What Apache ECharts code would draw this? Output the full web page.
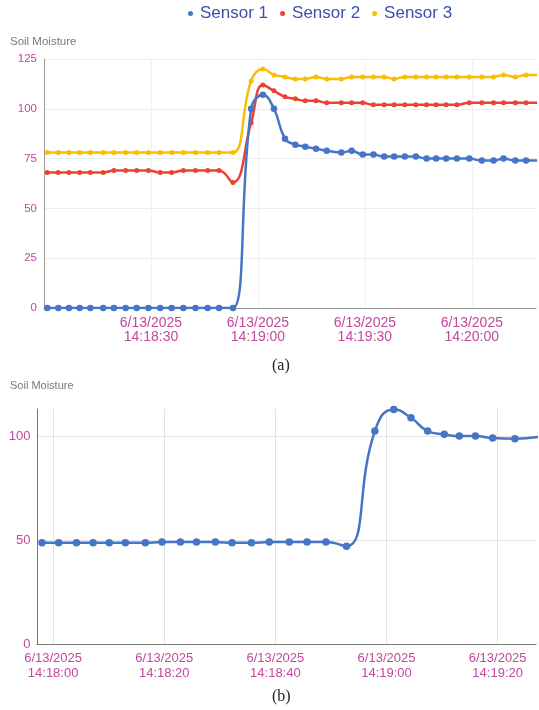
<!DOCTYPE html>
<html>
<head>
<meta charset="utf-8">
<script src="https://cdn.jsdelivr.net/npm/echarts@6/dist/echarts.min.js"></script>
<style>
html,body{margin:0;padding:0;background:#fff;}
#chart{width:539px;height:710px;}
</style>
</head>
<body>
<div id="chart"></div>
<script>
// ---- Chart (a): seconds after 6/13/2025 14:18:00 ----
const timesA = [0.9, 4.0, 7.0, 10.0, 13.0, 16.6, 19.6, 22.9, 26.0, 29.3, 32.6, 35.8, 39.1, 42.5, 45.9, 49.1, 53.0,
  58.1, 61.4, 64.5, 67.6, 70.5, 73.3, 76.3, 79.3, 83.4, 86.3, 89.4, 92.4, 95.4, 98.2, 101.2, 104.3, 107.3, 110.0,
  112.8, 115.8, 119.3, 122.8, 126.1, 128.9, 132.2, 135.2, 138.3];
const sensor1A = [0, 0, 0, 0, 0, 0, 0, 0, 0, 0, 0, 0, 0, 0, 0, 0, 0,
  100, 107, 100, 85, 82, 81, 80, 79, 78, 79, 77, 77, 76, 76, 76, 76, 75, 75, 75, 75, 75, 74, 74, 75, 74, 74, 74];
const sensor2A = [68, 68, 68, 68, 68, 68, 69, 69, 69, 69, 68, 68, 69, 69, 69, 69, 63,
  93, 112, 109, 106, 105, 104, 104, 103, 103, 103, 103, 102, 102, 102, 102, 102, 102, 102, 102, 102, 103, 103, 103, 103, 103, 103, 103];
const sensor3A = [78, 78, 78, 78, 78, 78, 78, 78, 78, 78, 78, 78, 78, 78, 78, 78, 78,
  114, 120, 117, 116, 115, 115, 116, 115, 115, 116, 116, 116, 116, 115, 116, 116, 116, 116, 116, 116, 116, 116, 116, 117, 116, 117, 117];
const seriesNamesA = ['Sensor 1', 'Sensor 2', 'Sensor 3'];
const xTickSecsA = [30, 60, 90, 120];
const xTickLabelsA = ['6/13/2025\n14:18:30', '6/13/2025\n14:19:00', '6/13/2025\n14:19:30', '6/13/2025\n14:20:00'];

// ---- Chart (b): seconds after 6/13/2025 14:18:00 ----
const timesB = [-2.0, 1.0, 4.2, 7.2, 10.1, 13.0, 16.6, 19.6, 22.9, 25.8, 29.2, 32.2, 35.7, 38.9, 42.5, 45.7, 49.1,
  52.8, 57.9, 61.3, 64.4, 67.4, 70.4, 73.1, 76.0, 79.1, 83.1, 87.5];
const valuesB = [48.7, 48.7, 48.7, 48.7, 48.7, 48.7, 48.7, 49, 49, 49, 49, 48.7, 48.7, 49, 49, 49, 49,
  47, 102.4, 112.8, 108.8, 102.4, 100.8, 100, 100, 99, 98.7, 99.6];
const xTickSecsB = [0, 20, 40, 60, 80];
const xTickLabelsB = ['6/13/2025\n14:18:00', '6/13/2025\n14:18:20', '6/13/2025\n14:18:40', '6/13/2025\n14:19:00', '6/13/2025\n14:19:20'];

const colors = ['#4674c6', '#ea4335', '#fbbc04'];
const labelColor = '#c2479f';
const font = 'Liberation Sans, Arial, sans-serif';

function pairs(xs, ys) { return xs.map((x, i) => [x, ys[i]]); }
function tickFormatter(secs, labels) {
  return function (v) {
    for (let i = 0; i < secs.length; i++) if (Math.abs(v - secs[i]) < 1e-6) return labels[i];
    return '';
  };
}

const chart = echarts.init(document.getElementById('chart'), null, { renderer: 'canvas' });
chart.setOption({
  animation: false,
  textStyle: { fontFamily: font },
  title: [
    { text: 'Soil Moisture', left: 10, top: 36, padding: 0, textStyle: { fontSize: 11.5, fontWeight: 'normal', color: '#7a7a7a', fontFamily: font } },
    { text: 'Soil Moisture', left: 10, top: 380, padding: 0, textStyle: { fontSize: 11, fontWeight: 'normal', color: '#7a7a7a', fontFamily: font } },
    { text: '(a)', left: 272, top: 358, padding: 0, textStyle: { fontSize: 16, fontWeight: 'normal', color: '#222', fontFamily: 'Liberation Serif, Times New Roman, serif' } },
    { text: '(b)', left: 272, top: 689, padding: 0, textStyle: { fontSize: 16, fontWeight: 'normal', color: '#222', fontFamily: 'Liberation Serif, Times New Roman, serif' } }
  ],
  legend: {
    data: seriesNamesA,
    left: 188, top: 5, padding: 0,
    icon: 'circle', itemWidth: 5, itemHeight: 5, itemGap: 12,
    textStyle: { fontSize: 17, color: '#3d4fae', fontFamily: font, padding: [0, 0, 0, 2] }
  },
  grid: [
    { left: 44, right: 0, top: 59, height: 249, containLabel: false },
    { left: 37, right: 0, top: 409, height: 235, containLabel: false }
  ],
  xAxis: [
    {
      type: 'value', gridIndex: 0, min: 0, max: 138, interval: 30,
      axisLine: { show: true, onZero: false, lineStyle: { color: '#9a9a9a', width: 1 } },
      axisTick: { show: false },
      axisLabel: { color: labelColor, fontSize: 14, lineHeight: 14.5, margin: 7.5, formatter: tickFormatter(xTickSecsA, xTickLabelsA) },
      splitLine: { show: true, showMaxLine: false, lineStyle: { color: '#f1f1f1' } }
    },
    {
      type: 'value', gridIndex: 1, min: -2.9, max: 86.9, splitNumber: 5,
      axisLine: { show: true, onZero: false, lineStyle: { color: '#777', width: 1 } },
      axisTick: { show: false },
      axisLabel: { color: labelColor, fontSize: 13, lineHeight: 15, margin: 6.5, formatter: tickFormatter(xTickSecsB, xTickLabelsB) },
      splitLine: { show: true, showMaxLine: false, lineStyle: { color: '#e3e3e3' } }
    }
  ],
  yAxis: [
    {
      type: 'value', gridIndex: 0, min: 0, max: 125, interval: 25,
      axisLine: { show: true, onZero: false, lineStyle: { color: '#9a9a9a', width: 1 } },
      axisTick: { show: false },
      axisLabel: { color: labelColor, fontSize: 11.5, margin: 7 },
      splitLine: { show: true, lineStyle: { color: '#ececec' } }
    },
    {
      type: 'value', gridIndex: 1, min: 0, max: 113, interval: 50,
      axisLine: { show: true, onZero: false, lineStyle: { color: '#777', width: 1 } },
      axisTick: { show: false },
      axisLabel: { color: labelColor, fontSize: 13, margin: 6.5, showMaxLabel: false },
      splitLine: { show: true, showMaxLine: false, lineStyle: { color: '#e3e3e3' } }
    }
  ],
  series: [
    { name: seriesNamesA[2], type: 'line', xAxisIndex: 0, yAxisIndex: 0, data: pairs(timesA, sensor3A), smooth: 0.45,
      symbol: 'circle', symbolSize: 5, lineStyle: { width: 2.5, color: colors[2] }, itemStyle: { color: colors[2] }, z: 2 },
    { name: seriesNamesA[1], type: 'line', xAxisIndex: 0, yAxisIndex: 0, data: pairs(timesA, sensor2A), smooth: 0.45,
      symbol: 'circle', symbolSize: 5, lineStyle: { width: 2.5, color: colors[1] }, itemStyle: { color: colors[1] }, z: 3 },
    { name: seriesNamesA[0], type: 'line', xAxisIndex: 0, yAxisIndex: 0, data: pairs(timesA, sensor1A), smooth: 0.45,
      symbol: 'circle', symbolSize: 6.5, lineStyle: { width: 2.5, color: colors[0] }, itemStyle: { color: colors[0] }, z: 4 },
    { name: 'Soil Moisture (b)', type: 'line', xAxisIndex: 1, yAxisIndex: 1, data: pairs(timesB, valuesB), smooth: 0.5,
      symbol: 'circle', symbolSize: 7.5, lineStyle: { width: 2.5, color: colors[0] }, itemStyle: { color: colors[0] } }
  ]
});
</script>
</body>
</html>
